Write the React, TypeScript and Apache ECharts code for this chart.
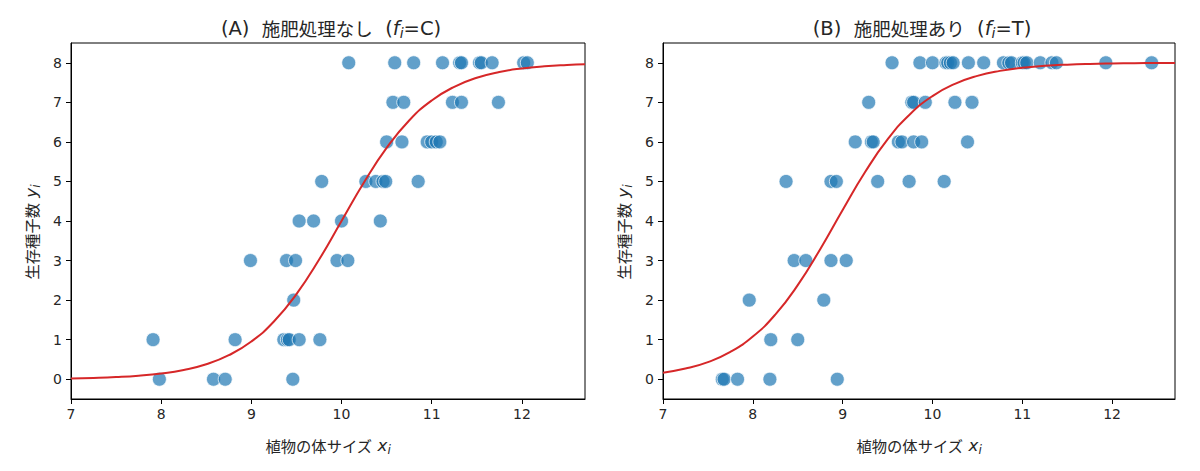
import React, { useEffect, useRef } from "react";
import * as echarts from "echarts";

// ---- Data ----
const xTicks = [7, 8, 9, 10, 11, 12];
const yTicks = [0, 1, 2, 3, 4, 5, 6, 7, 8];

// (A) control group: plant size x, surviving seeds y
const controlX = [
  10.08, 10.59, 10.8, 11.12, 11.31, 11.33, 11.53, 11.55, 11.67, 12.02, 12.06,
  10.57, 10.69, 11.23, 11.33, 11.74,
  10.5, 10.67, 10.95, 11.0, 11.05, 11.09,
  9.78, 10.27, 10.38, 10.46, 10.49, 10.85,
  9.53, 9.69, 10.0, 10.43,
  8.99, 9.39, 9.49, 9.95, 10.07,
  9.47,
  7.91, 8.82, 9.36, 9.4, 9.42, 9.53, 9.76,
  7.98, 8.58, 8.71, 9.46,
];
const controlY = [
  8, 8, 8, 8, 8, 8, 8, 8, 8, 8, 8,
  7, 7, 7, 7, 7,
  6, 6, 6, 6, 6, 6,
  5, 5, 5, 5, 5, 5,
  4, 4, 4, 4,
  3, 3, 3, 3, 3,
  2,
  1, 1, 1, 1, 1, 1, 1,
  0, 0, 0, 0,
];

// (B) treatment group
const treatX = [
  9.55, 9.86, 10.0, 10.15, 10.17, 10.2, 10.23, 10.4, 10.57, 10.79, 10.85, 10.88,
  11.0, 11.02, 11.05, 11.2, 11.33, 11.38, 11.93, 12.44,
  9.29, 9.77, 9.79, 9.92, 10.25, 10.44,
  9.14, 9.32, 9.34, 9.62, 9.66, 9.79, 9.88, 10.39,
  8.37, 8.87, 8.93, 9.39, 9.74, 10.13,
  8.46, 8.59, 8.87, 9.04,
  7.96, 8.79,
  8.2, 8.5,
  7.66, 7.68, 7.83, 8.19, 8.94,
];
const treatY = [
  8, 8, 8, 8, 8, 8, 8, 8, 8, 8, 8, 8,
  8, 8, 8, 8, 8, 8, 8, 8,
  7, 7, 7, 7, 7, 7,
  6, 6, 6, 6, 6, 6, 6, 6,
  5, 5, 5, 5, 5, 5,
  3, 3, 3, 3,
  2, 2,
  1, 1,
  0, 0, 0, 0, 0,
];

// fitted curves
const curveX = [
  7.0, 7.25, 7.5, 7.75, 8.0, 8.25, 8.5, 8.75, 9.0, 9.25, 9.5, 9.75, 10.0,
  10.25, 10.5, 10.75, 11.0, 11.25, 11.5, 11.75, 12.0, 12.25, 12.5, 12.7,
];
const controlCurveY = [
  0.02, 0.033, 0.054, 0.088, 0.144, 0.235, 0.379, 0.607, 0.954, 1.459, 2.152,
  3.02, 4.0, 4.98, 5.848, 6.541, 7.046, 7.393, 7.621, 7.766, 7.856, 7.912,
  7.946, 7.964,
];
const treatCurveY = [
  0.165, 0.269, 0.433, 0.69, 1.078, 1.634, 2.379, 3.288, 4.279, 5.238, 6.061,
  6.7, 7.158, 7.467, 7.668, 7.795, 7.875, 7.923, 7.953, 7.972, 7.983, 7.99,
  7.994, 7.996,
];

const FONT = "'DejaVu Sans', 'Noto Sans CJK JP', sans-serif";
const CJK = "'Noto Sans CJK JP', 'DejaVu Sans', sans-serif";
const TEXT = "#262626";

const rich = (size: number, cjkSize: number) => ({
  c: { fontSize: cjkSize, fontFamily: CJK, color: TEXT },
  it: { fontStyle: "italic", fontSize: size, fontFamily: FONT, color: TEXT },
  sub: {
    fontStyle: "italic",
    fontSize: Math.round(size * 0.7),
    fontFamily: FONT,
    color: TEXT,
    lineHeight: Math.round(size * 0.7),
    verticalAlign: "bottom",
  },
});

const pairs = (xs: number[], ys: number[]) => xs.map((x, i) => [x, ys[i]]);

export default function App() {
  const ref = useRef<HTMLDivElement>(null);

  useEffect(() => {
    if (!ref.current) return;
    const chart = echarts.init(ref.current, undefined, { renderer: "svg" });

    const grids = [
      { left: 71, top: 43, width: 514, height: 356 },
      { left: 663, top: 43, width: 512, height: 356 },
    ];

    const nameStyle = {
      fontSize: 16.7,
      fontFamily: FONT,
      color: TEXT,
      lineHeight: 22,
      rich: rich(16.7, 15.3),
    };

    const xAxis = [0, 1].map((gi) => ({
      type: "value",
      gridIndex: gi,
      min: 7,
      max: 12.7,
      name: "{c|植物の体サイズ} {it|x}{sub|i}",
      nameLocation: "middle",
      nameGap: 35,
      nameTextStyle: nameStyle,
      axisLine: { show: true, onZero: false, lineStyle: { color: "#000", width: 1 } },
      axisTick: {
        show: true,
        length: 5,
        customValues: xTicks,
        lineStyle: { color: "#000", width: 1 },
      },
      axisLabel: {
        customValues: xTicks,
        margin: 8,
        fontSize: 14,
        fontFamily: FONT,
        color: TEXT,
      },
      splitLine: { show: false },
    }));

    const yAxis = [0, 1].map((gi) => ({
      type: "value",
      gridIndex: gi,
      min: -0.5,
      max: 8.5,
      name: "{c|生存種子数} {it|y}{sub|i}",
      nameLocation: "middle",
      nameRotate: 90,
      nameGap: 29,
      nameTextStyle: { ...nameStyle, padding: [0, 22, 0, 0] },
      axisLine: { show: true, onZero: false, lineStyle: { color: "#000", width: 1 } },
      axisTick: {
        show: true,
        length: 5,
        customValues: yTicks,
        lineStyle: { color: "#000", width: 1 },
      },
      axisLabel: {
        customValues: yTicks,
        margin: 9,
        fontSize: 14,
        fontFamily: FONT,
        color: TEXT,
      },
      splitLine: { show: false },
    }));

    const scatterStyle = {
      color: "#1f77b4",
      opacity: 0.7,
      borderColor: "#ffffff",
      borderWidth: 1,
    };

    const titleStyle = {
      fontSize: 19.5,
      fontWeight: "normal",
      fontFamily: FONT,
      color: TEXT,
      lineHeight: 24,
      rich: rich(19.5, 18.5),
    };

    chart.setOption({
      animation: false,
      backgroundColor: "#ffffff",
      title: [
        {
          text: "(A)  {c|施肥処理なし}  ({it|f}{sub|i}=C)",
          left: 326,
          top: 11,
          textAlign: "center",
          textStyle: titleStyle,
        },
        {
          text: "(B)  {c|施肥処理あり}  ({it|f}{sub|i}=T)",
          left: 917,
          top: 11,
          textAlign: "center",
          textStyle: titleStyle,
        },
      ],
      grid: grids.map((g) => ({
        ...g,
        show: true,
        borderColor: "#000",
        borderWidth: 1,
        backgroundColor: "transparent",
        containLabel: false,
      })),
      xAxis,
      yAxis,
      series: [
        {
          type: "scatter",
          xAxisIndex: 0,
          yAxisIndex: 0,
          symbolSize: 14,
          data: pairs(controlX, controlY),
          itemStyle: scatterStyle,
          z: 2,
        },
        {
          type: "line",
          xAxisIndex: 0,
          yAxisIndex: 0,
          data: pairs(curveX, controlCurveY),
          smooth: true,
          showSymbol: false,
          lineStyle: { color: "#d62728", width: 2 },
          z: 3,
        },
        {
          type: "scatter",
          xAxisIndex: 1,
          yAxisIndex: 1,
          symbolSize: 14,
          data: pairs(treatX, treatY),
          itemStyle: scatterStyle,
          z: 2,
        },
        {
          type: "line",
          xAxisIndex: 1,
          yAxisIndex: 1,
          data: pairs(curveX, treatCurveY),
          smooth: true,
          showSymbol: false,
          lineStyle: { color: "#d62728", width: 2 },
          z: 3,
        },
      ],
    });

    return () => chart.dispose();
  }, []);

  return (
    <div
      ref={ref}
      style={{ position: "absolute", left: 0, top: 0, width: 1200, height: 471 }}
    />
  );
}
